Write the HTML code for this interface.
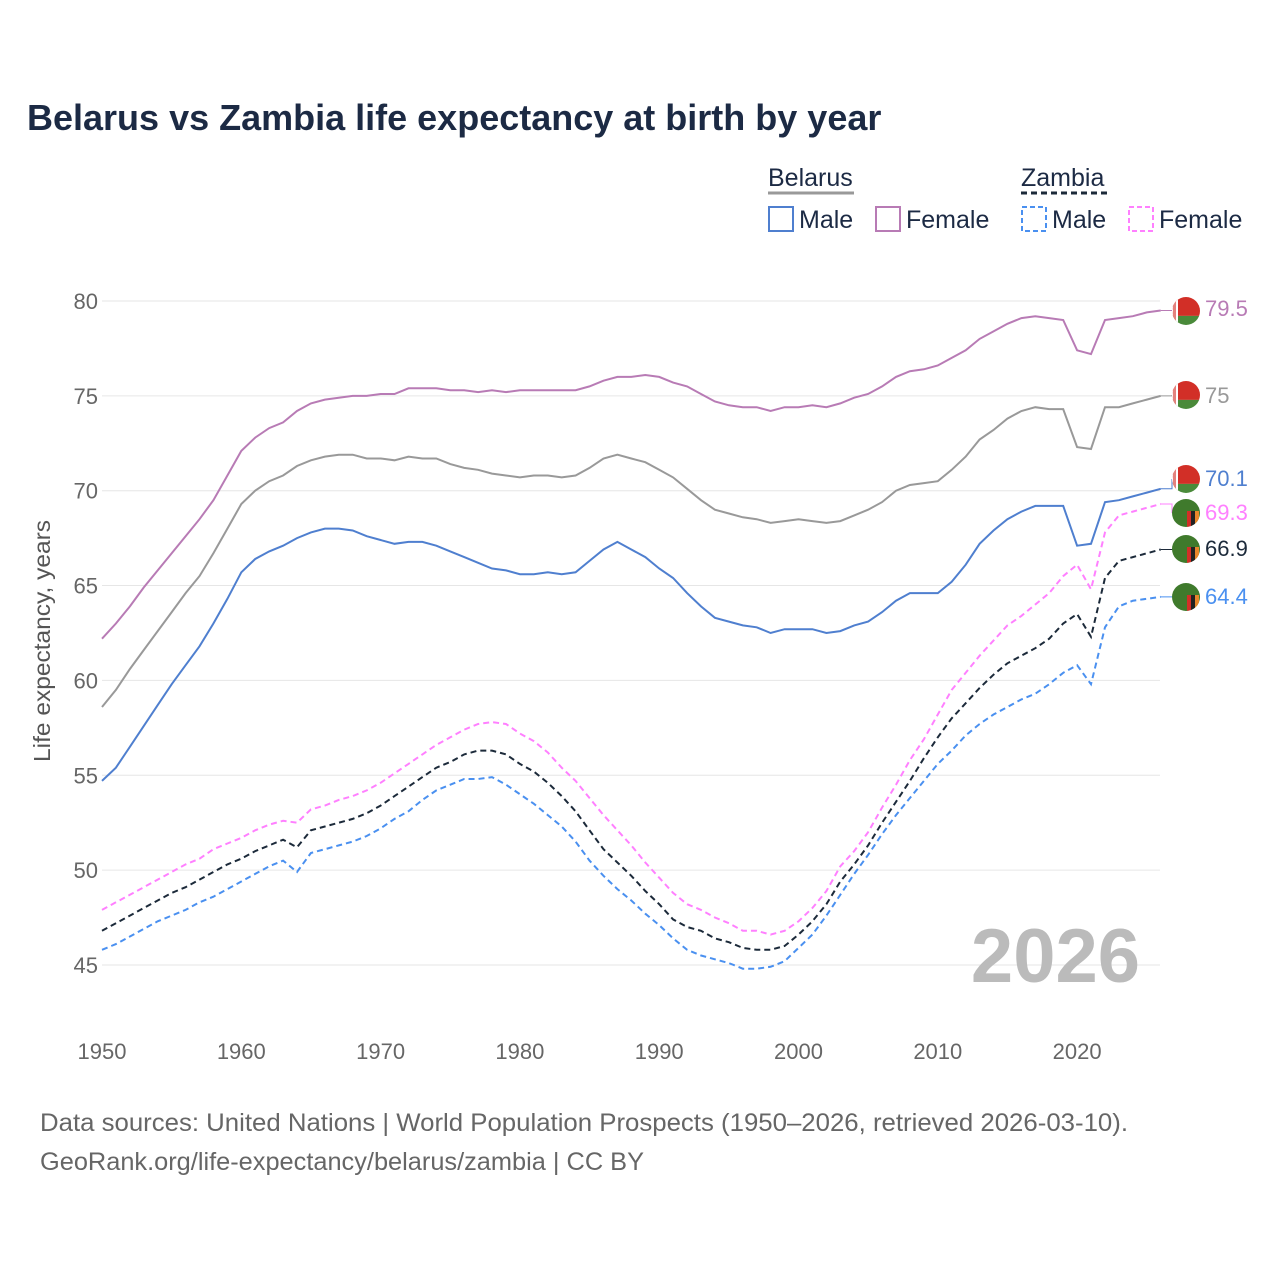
<!DOCTYPE html>
<html><head><meta charset="utf-8"><style>
body{margin:0;background:#fff;font-family:"Liberation Sans",sans-serif}
</style></head><body>
<svg id="chart" width="1280" height="1280" xmlns="http://www.w3.org/2000/svg" font-family="Liberation Sans, sans-serif">
<text x="27" y="130" font-size="36" font-weight="bold" fill="#1c2a44">Belarus vs Zambia life expectancy at birth by year</text>
<g font-size="25" fill="#1c2a44">
<text x="768" y="186">Belarus</text>
<line x1="768" y1="193" x2="854" y2="193" stroke="#999" stroke-width="3"/>
<text x="1021" y="186">Zambia</text>
<line x1="1021" y1="193" x2="1107" y2="193" stroke="#1c2a3a" stroke-width="3" stroke-dasharray="6,4"/>
<g><rect x="769" y="207" width="24" height="24" fill="none" stroke="#4f7fcf" stroke-width="2"/><text x="799" y="228">Male</text></g>
<g><rect x="876" y="207" width="24" height="24" fill="none" stroke="#b87bb5" stroke-width="2"/><text x="906" y="228">Female</text></g>
<g><rect x="1022" y="207" width="24" height="24" fill="none" stroke="#4a90f0" stroke-width="2" stroke-dasharray="5,3"/><text x="1052" y="228">Male</text></g>
<g><rect x="1129" y="207" width="24" height="24" fill="none" stroke="#ff80ff" stroke-width="2" stroke-dasharray="5,3"/><text x="1159" y="228">Female</text></g>
</g>
<g id="grid"></g><g id="axes"></g>
<text x="1140" y="982" text-anchor="end" font-size="76" font-weight="bold" fill="#bbb">2026</text>
<g id="lines"></g><g id="ends"></g>
<text transform="translate(50,641) rotate(-90)" text-anchor="middle" font-size="23" fill="#555" textLength="242" lengthAdjust="spacingAndGlyphs">Life expectancy, years</text>
<text x="40" y="1131" font-size="25" fill="#666" textLength="1088" lengthAdjust="spacingAndGlyphs">Data sources: United Nations | World Population Prospects (1950–2026, retrieved 2026-03-10).</text>
<text x="40" y="1170" font-size="25" fill="#666" textLength="604" lengthAdjust="spacingAndGlyphs">GeoRank.org/life-expectancy/belarus/zambia | CC BY</text>
</svg>
<script>
const years=[];for(let y=1950;y<=2026;y++)years.push(y);
const belarusFemale=[62.2,63.0,63.9,64.9,65.8,66.7,67.6,68.5,69.5,70.8,72.1,72.8,73.3,73.6,74.2,74.6,74.8,74.9,75.0,75.0,75.1,75.1,75.4,75.4,75.4,75.3,75.3,75.2,75.3,75.2,75.3,75.3,75.3,75.3,75.3,75.5,75.8,76.0,76.0,76.1,76.0,75.7,75.5,75.1,74.7,74.5,74.4,74.4,74.2,74.4,74.4,74.5,74.4,74.6,74.9,75.1,75.5,76.0,76.3,76.4,76.6,77.0,77.4,78.0,78.4,78.8,79.1,79.2,79.1,79.0,77.4,77.2,79.0,79.1,79.2,79.4,79.5];
const belarusTotal=[58.6,59.5,60.6,61.6,62.6,63.6,64.6,65.5,66.7,68.0,69.3,70.0,70.5,70.8,71.3,71.6,71.8,71.9,71.9,71.7,71.7,71.6,71.8,71.7,71.7,71.4,71.2,71.1,70.9,70.8,70.7,70.8,70.8,70.7,70.8,71.2,71.7,71.9,71.7,71.5,71.1,70.7,70.1,69.5,69.0,68.8,68.6,68.5,68.3,68.4,68.5,68.4,68.3,68.4,68.7,69.0,69.4,70.0,70.3,70.4,70.5,71.1,71.8,72.7,73.2,73.8,74.2,74.4,74.3,74.3,72.3,72.2,74.4,74.4,74.6,74.8,75.0];
const belarusMale=[54.7,55.4,56.5,57.6,58.7,59.8,60.8,61.8,63.0,64.3,65.7,66.4,66.8,67.1,67.5,67.8,68.0,68.0,67.9,67.6,67.4,67.2,67.3,67.3,67.1,66.8,66.5,66.2,65.9,65.8,65.6,65.6,65.7,65.6,65.7,66.3,66.9,67.3,66.9,66.5,65.9,65.4,64.6,63.9,63.3,63.1,62.9,62.8,62.5,62.7,62.7,62.7,62.5,62.6,62.9,63.1,63.6,64.2,64.6,64.6,64.6,65.2,66.1,67.2,67.9,68.5,68.9,69.2,69.2,69.2,67.1,67.2,69.4,69.5,69.7,69.9,70.1];
const zambiaFemale=[47.9,48.3,48.7,49.1,49.5,49.9,50.3,50.6,51.1,51.4,51.7,52.1,52.4,52.6,52.5,53.2,53.4,53.7,53.9,54.2,54.6,55.1,55.6,56.1,56.6,57.0,57.4,57.7,57.8,57.7,57.2,56.8,56.2,55.4,54.7,53.8,52.9,52.1,51.3,50.4,49.6,48.8,48.2,47.9,47.5,47.2,46.8,46.8,46.6,46.8,47.3,48.0,48.9,50.2,51.0,52.0,53.3,54.5,55.8,56.9,58.2,59.5,60.4,61.3,62.1,62.9,63.4,64.0,64.6,65.5,66.1,64.8,67.8,68.7,68.9,69.1,69.3];
const zambiaTotal=[46.8,47.2,47.6,48.0,48.4,48.8,49.1,49.5,49.9,50.3,50.6,51.0,51.3,51.6,51.2,52.1,52.3,52.5,52.7,53.0,53.4,53.9,54.4,54.9,55.4,55.7,56.1,56.3,56.3,56.1,55.6,55.2,54.6,53.9,53.1,52.1,51.1,50.4,49.7,48.9,48.2,47.4,47.0,46.8,46.4,46.2,45.9,45.8,45.8,46.0,46.6,47.3,48.2,49.4,50.3,51.3,52.5,53.6,54.7,55.9,57.0,58.0,58.8,59.6,60.3,60.9,61.3,61.7,62.2,63.0,63.5,62.3,65.4,66.3,66.5,66.7,66.9];
const zambiaMale=[45.8,46.1,46.5,46.9,47.3,47.6,47.9,48.3,48.6,49.0,49.4,49.8,50.2,50.5,49.9,50.9,51.1,51.3,51.5,51.8,52.2,52.7,53.1,53.7,54.2,54.5,54.8,54.8,54.9,54.5,54.0,53.5,52.9,52.3,51.5,50.5,49.7,49.0,48.4,47.7,47.1,46.4,45.8,45.5,45.3,45.1,44.8,44.8,44.9,45.2,45.9,46.6,47.6,48.7,49.8,50.8,51.9,52.9,53.8,54.7,55.6,56.3,57.1,57.7,58.2,58.6,59.0,59.3,59.8,60.4,60.8,59.8,62.8,63.9,64.2,64.3,64.4];
const yTicks=[45,50,55,60,65,70,75,80];
const xTicks=[1950,1960,1970,1980,1990,2000,2010,2020];
const NS="http://www.w3.org/2000/svg";
const X=y=>102+(y-1950)*13.93;
const Y=v=>301+(80-v)*18.97;
function mk(tag,attrs,parent){const e=document.createElementNS(NS,tag);for(const k in attrs)e.setAttribute(k,attrs[k]);parent.appendChild(e);return e;}
const grid=document.getElementById('grid'),axes=document.getElementById('axes');
yTicks.forEach(t=>{
 const l=mk('line',{x1:102,x2:1160,y1:Y(t),y2:Y(t),stroke:'#e6e6e6','stroke-width':1},grid);
 
 
 const tx=mk('text',{x:98,y:Y(t)+8,'text-anchor':'end','font-size':22,fill:'#666'},axes);
 tx.textContent=t;
 
 
});
xTicks.forEach(t=>{
 const tx=mk('text',{x:X(t),y:1059,'text-anchor':'middle','font-size':22,fill:'#666'},axes);
 tx.textContent=t;
 
 
});
const series=[
 {d:belarusFemale,c:'#b87bb5',dash:'',n:'belarus-female',ly:308,fy:311,f:'by'},
 {d:belarusTotal,c:'#999',dash:'',n:'belarus-total',ly:395,fy:395,f:'by'},
 {d:belarusMale,c:'#4f7fcf',dash:'',n:'belarus-male',ly:478,fy:479,f:'by'},
 {d:zambiaFemale,c:'#ff80ff',dash:'6,4',n:'zambia-female',ly:512,fy:513,f:'zm'},
 {d:zambiaTotal,c:'#1c2a3a',dash:'6,4',n:'zambia-total',ly:548,fy:549,f:'zm'},
 {d:zambiaMale,c:'#4a90f0',dash:'6,4',n:'zambia-male',ly:596,fy:597,f:'zm'}
];
const lines=document.getElementById('lines'),ends=document.getElementById('ends');
series.forEach(s=>{
 const pts=s.d.map((v,i)=>X(years[i]).toFixed(1)+','+Y(v).toFixed(1)).join(' ');
 const p=mk('polyline',{points:pts,fill:'none',stroke:s.c,'stroke-width':2,'stroke-dasharray':s.dash},lines);
 
 
 const last=s.d[s.d.length-1],lx=X(2026),ly=Y(last);
 const g=mk('g',{},ends);
 
 
 mk('path',{d:`M${lx},${ly} L1172,${ly} L1172,${s.fy}`,fill:'none',stroke:s.c,'stroke-width':1},g);
 const cx=1186,cy=s.fy,r=14;
 const cid='clip-'+s.n;
 const cp=mk('clipPath',{id:cid},g);mk('circle',{cx,cy,r},cp);
 const fg=mk('g',{'clip-path':`url(#${cid})`},g);
 if(s.f==='by'){
  mk('rect',{x:cx-r,y:cy-r,width:2*r,height:r*1.35,fill:'#d22f27'},fg);
  mk('rect',{x:cx-r,y:cy-r+r*1.35,width:2*r,height:r,fill:'#4a8a3a'},fg);
  mk('rect',{x:cx-r,y:cy-r,width:6,height:2*r,fill:'#fff'},fg);
  mk('rect',{x:cx-r+1,y:cy-r,width:3,height:2*r,fill:'#d22f27',opacity:0.6},fg);
 }else{
  mk('rect',{x:cx-r,y:cy-r,width:2*r,height:2*r,fill:'#3f7a2c'},fg);
  mk('rect',{x:cx+1,y:cy-2,width:4,height:16,fill:'#d22f27'},fg);
  mk('rect',{x:cx+5,y:cy-2,width:4,height:16,fill:'#222'},fg);
  mk('rect',{x:cx+9,y:cy-2,width:4,height:16,fill:'#e8872a'},fg);
 }
 const t=mk('text',{x:1205,y:s.ly+8,'font-size':22,fill:s.c},g);
 t.textContent=(last%1===0)?String(last):last.toFixed(1);
 
 
});
</script>
</body></html>
